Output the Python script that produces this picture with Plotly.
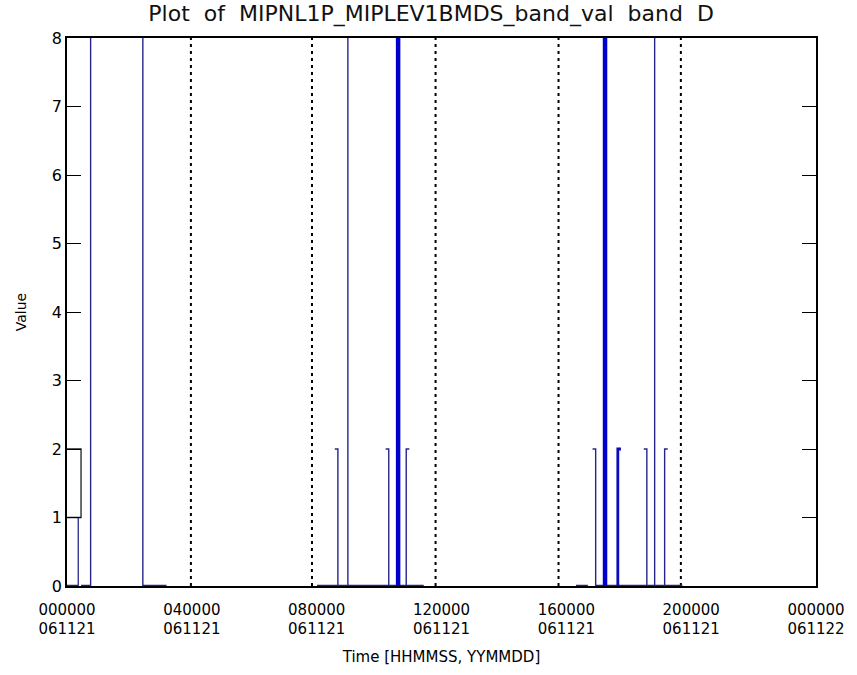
import plotly.graph_objects as go

# ---- data (time in hours since 000000 061121) ----
tick_hours = [0, 4, 8, 12, 16, 20, 24]
tick_hhmmss = ["000000", "040000", "080000", "120000", "160000", "200000", "000000"]
tick_yymmdd = ["061121", "061121", "061121", "061121", "061121", "061121", "061122"]

# segments where value is 0 (start, end)
zero_start = [0.00, 0.45, 2.43, 8.01, 16.31, 16.92]
zero_end = [0.36, 0.77, 3.19, 11.43, 16.69, 19.72]

# spikes to value 8
spike8_thin = [0.757, 2.43, 9.00, 18.83]
spike8_thick = [10.61, 17.24]

# spikes to value 2, with cap direction (-1 left, +1 right)
spike2_time = [8.68, 10.31, 10.87, 16.94, 18.58, 19.15]
spike2_cap = [-1, -1, 1, -1, -1, 1]
spike2_mid_time = [17.65]
spike2_mid_cap = [1]

# early step block (values 2 and 1)
block_time = [0.00, 0.45, 0.45, 0.00]
block_value = [2, 2, 1, 1]
drop_time = [0.36]
drop_value = [1]

# dotted separators
sep_time = [3.97, 7.85, 11.81, 15.75, 19.67]

cap_len = 0.1

def vlines(times, top):
    xs, ys = [], []
    for t in times:
        xs += [t, t, None]
        ys += [0, top, None]
    return xs, ys

def capped(times, caps, top):
    xs, ys = [], []
    for t, c in zip(times, caps):
        xs += [t + c * cap_len, t, t, None]
        ys += [top, top, 0, None]
    return xs, ys

fig = go.Figure()

# separators
sx, sy = vlines(sep_time, 8)
fig.add_trace(go.Scatter(x=sx, y=sy, mode="lines",
                         line=dict(color="black", width=2, dash="3px,4px"),
                         hoverinfo="skip"))

# zero baseline segments
zx, zy = [], []
for a, b in zip(zero_start, zero_end):
    zx += [a, b, None]
    zy += [0, 0, None]
fig.add_trace(go.Scatter(x=zx, y=zy, mode="lines",
                         line=dict(color="#1c1ca8", width=2.5)))

# block
fig.add_trace(go.Scatter(x=block_time, y=block_value, mode="lines",
                         line=dict(color="#202020", width=1.3)))
dx, dy = vlines(drop_time, drop_value[0])
fig.add_trace(go.Scatter(x=dx, y=dy, mode="lines",
                         line=dict(color="#26268a", width=1.3)))

# thin spikes to 8
x8, y8 = vlines(spike8_thin, 8)
fig.add_trace(go.Scatter(x=x8, y=y8, mode="lines",
                         line=dict(color="#26268a", width=1.4)))
# thick spikes to 8
x8t, y8t = vlines(spike8_thick, 8)
fig.add_trace(go.Scatter(x=x8t, y=y8t, mode="lines",
                         line=dict(color="#0000cc", width=4.5)))
# spikes to 2
x2, y2 = capped(spike2_time, spike2_cap, 2)
fig.add_trace(go.Scatter(x=x2, y=y2, mode="lines",
                         line=dict(color="#26268a", width=1.4)))
x2m, y2m = capped(spike2_mid_time, spike2_mid_cap, 2)
fig.add_trace(go.Scatter(x=x2m, y=y2m, mode="lines",
                         line=dict(color="#0a0ab8", width=2.8)))

title_text = "Plot\u00a0\u00a0of\u00a0\u00a0MIPNL1P_MIPLEV1BMDS_band_val\u00a0\u00a0band\u00a0\u00a0D"

fig.update_layout(
    width=857, height=675,
    margin=dict(l=67, r=37, t=38, b=87),
    paper_bgcolor="white", plot_bgcolor="white",
    showlegend=False,
    font=dict(family="DejaVu Sans", size=15, color="black"),
    title=dict(text=title_text,
               x=0.503, xanchor="center", y=0.981, yanchor="middle",
               font=dict(family="DejaVu Sans", size=22, color="#111111")),
)
fig.update_xaxes(
    range=[0, 24], tickvals=tick_hours,
    ticktext=[f"{a}<br>{b}" for a, b in zip(tick_hhmmss, tick_yymmdd)],
    showline=True, linecolor="black", linewidth=1.5, mirror=True,
    ticks="", showgrid=False, zeroline=False, ticklabelstandoff=9,
    title=dict(text="Time [HHMMSS, YYMMDD]", font=dict(size=15), standoff=14),
    tickfont=dict(size=15),
)
fig.update_yaxes(
    range=[0, 8], tickvals=[0, 1, 2, 3, 4, 5, 6, 7, 8],
    showline=True, linecolor="black", linewidth=1.5, mirror="ticks",
    ticks="inside", ticklen=14, tickwidth=1.3, tickcolor="black",
    showgrid=False, zeroline=False,
    title=dict(text="Value", font=dict(size=14), standoff=22),
    tickfont=dict(size=16),
)

fig.write_html("out.html",
               config={"displayModeBar": False},
               post_script="document.body.style.margin='0';document.body.style.padding='0';")
